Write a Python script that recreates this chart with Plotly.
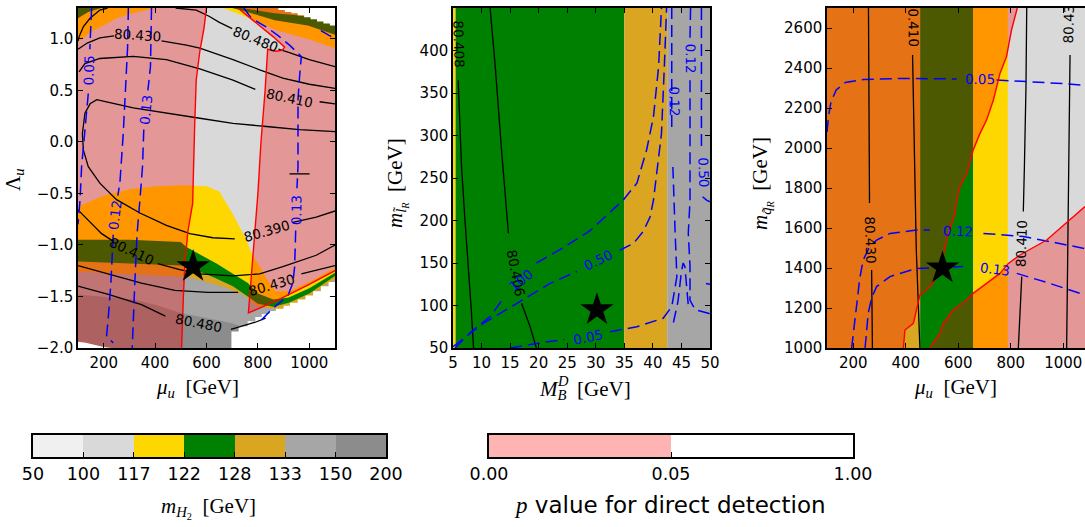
import math
import plotly.graph_objects as go

FIG_W, FIG_H = 1085, 527

# ---------------- colour classes ----------------
MH2_EDGES = [50, 100, 117, 122, 128, 133, 150, 200]
MH2_COLORS = ['#f0f0f0', '#d9d9d9', '#ffd700', '#008000', '#daa520', '#a6a6a6', '#8c8c8c']
PV_TICKS = ['0.00', '0.05', '1.00']
PV_COLORS = ['#ffb3b3', '#ffffff']
PINK = 'rgba(255,0,0,0.3)'
NODATA = '#ffffff'
LGRAY, GOLD, GREEN, GROD, DGRAY, GRAY = MH2_COLORS[1:]

# ---------------- axis ranges ----------------
P1_XR, P1_YR = [100, 1100], [-2.0, 1.3]
P2_XR, P2_YR = [5, 50], [50, 450]
P3_XR, P3_YR = [100, 1083], [1000, 2700]

# ================= PANEL 1 (mu_u vs Lambda_u) =================
P1_TL117_X = [100, 150, 200, 250, 300, 400]
P1_TL117_Y = [0.97, 1.07, 1.13, 1.2, 1.24, 1.3]
P1_TL122_X = [100, 140, 190]
P1_TL122_Y = [1.2, 1.26, 1.3]
P1_TR117_X = [665, 720, 800, 865, 994, 1100]
P1_TR117_Y = [1.3, 1.25, 1.17, 1.09, 1.0, 0.91]
P1_TR122_X = [700, 760, 865, 994, 1100]
P1_TR122_Y = [1.3, 1.26, 1.18, 1.13, 1.04]
P1_TR128_X = [735, 865, 950, 1100]
P1_TR128_Y = [1.3, 1.25, 1.23, 1.18]
P1_B117_X = [100, 200, 300, 400, 500, 600, 650, 700, 755, 775, 800, 840, 870, 920, 1000, 1100]
P1_B117_Y = [-0.63, -0.52, -0.46, -0.43, -0.42, -0.43, -0.48, -0.69, -0.95, -1.08, -1.18, -1.35, -1.45, -1.45, -1.36, -1.22]
P1_B122_X = [100, 300, 500, 522, 580, 639, 703, 761, 800, 860, 920, 1000, 1100]
P1_B122_Y = [-0.95, -0.95, -0.97, -1.02, -1.1, -1.18, -1.28, -1.37, -1.47, -1.53, -1.51, -1.42, -1.27]
P1_B128_X = [100, 300, 500, 522, 625, 703, 761, 800, 860, 920, 1000, 1100]
P1_B128_Y = [-1.16, -1.18, -1.2, -1.21, -1.31, -1.4, -1.5, -1.57, -1.6, -1.56, -1.47, -1.3]
P1_B133_X = [100, 300, 500, 528, 600, 671, 749, 800, 900, 1000, 1100]
P1_B133_Y = [-1.26, -1.28, -1.3, -1.31, -1.36, -1.41, -1.49, -1.6, -1.63, -1.51, -1.33]
P1_B150_X = [100, 200, 315, 400, 500, 600, 700, 800, 1100]
P1_B150_Y = [-1.48, -1.5, -1.53, -1.58, -1.66, -1.71, -1.76, -1.85, -1.85]

# no-data (white) areas
P1_WBR_X = [697, 697, 725, 725, 760, 760, 790, 790, 815, 815, 845, 845, 870, 870, 900, 900, 925, 925,
            955, 955, 985, 985, 1015, 1015, 1045, 1045, 1075, 1075, 1100, 1100]
P1_WBR_Y = [-2.0, -1.84, -1.84, -1.79, -1.79, -1.74, -1.74, -1.7, -1.7, -1.67, -1.67, -1.64, -1.64, -1.62,
            -1.62, -1.59, -1.59, -1.56, -1.56, -1.53, -1.53, -1.49, -1.49, -1.45, -1.45, -1.4, -1.4, -1.36, -1.36, -2.0]
P1_WTR_X = [880, 880, 905, 905, 930, 930, 955, 955, 980, 980, 1005, 1005, 1030, 1030, 1055, 1055, 1080, 1080, 1100, 1100]
P1_WTR_Y = [1.3, 1.28, 1.28, 1.26, 1.26, 1.25, 1.25, 1.23, 1.23, 1.21, 1.21, 1.19, 1.19, 1.17, 1.17, 1.15, 1.15, 1.13, 1.13, 1.3]
P1_WBL_X = [100, 100, 130, 160, 200, 230]
P1_WBL_Y = [-2.0, -1.94, -1.95, -1.97, -1.99, -2.0]

# p = 0.05 boundaries (red)
P1_RL_X = [600, 590, 574, 560, 554, 550, 546, 528, 516, 510, 503]
P1_RL_Y = [1.3, 1.1, 0.88, 0.6, 0.16, -0.42, -0.6, -0.86, -1.18, -1.5, -2.0]
P1_RR_X = [722, 800, 860, 904, 895, 870, 838, 828, 812, 800, 785, 775, 763, 865, 994, 1100]
P1_RR_Y = [1.3, 1.14, 1.02, 0.92, 0.89, 0.88, 0.9, 0.5, 0.0, -0.5, -1.0, -1.3, -1.66, -1.55, -1.39, -1.25]

# m_W contours (black), list of segments
P1_BLACK = [
    ([100, 104, 121, 147, 185, 215], [0.98, 1.02, 1.12, 1.2, 1.28, 1.3]),
    ([100, 136, 185, 240], [0.9, 0.96, 1.01, 1.03]),
    ([425, 451, 522, 574, 703, 807, 897, 1000, 1100], [0.98, 0.97, 0.94, 0.91, 0.8, 0.7, 0.62, 0.56, 0.52]),
    ([480, 560, 610, 650, 700], [1.3, 1.28, 1.22, 1.16, 1.1]),
    ([880, 920, 1000, 1100], [0.9, 0.87, 0.8, 0.73]),
    ([104, 127, 185, 315, 444, 574, 703, 790], [0.68, 0.76, 0.81, 0.83, 0.8, 0.71, 0.6, 0.51]),
    ([1040, 1100], [0.39, 0.37]),
    ([1100, 962, 833, 703, 574, 444, 315, 211, 173, 147, 127, 117, 121, 140, 185, 250, 341, 444, 535, 625, 710],
     [0.10, 0.12, 0.15, 0.18, 0.23, 0.28, 0.33, 0.39, 0.41, 0.37, 0.28, 0.08, -0.08, -0.24, -0.40, -0.56, -0.69, -0.81, -0.89, -0.93, -0.94]),
    ([936, 1027, 1100], [-0.78, -0.73, -0.67]),
    ([100, 150, 192, 235], [-0.66, -0.78, -0.89, -0.96]),
    ([410, 496, 574, 703, 807, 897, 1027, 1100], [-1.18, -1.24, -1.28, -1.30, -1.28, -1.21, -1.1, -1.0]),
    ([100, 218, 347, 477, 606, 723], [-1.2, -1.28, -1.37, -1.44, -1.46, -1.46]),
    ([969, 1030, 1100], [-1.28, -1.24, -1.2]),
    ([100, 218, 347, 440], [-1.4, -1.48, -1.58, -1.69]),
    ([695, 740, 790, 830], [-1.82, -1.79, -1.75, -1.71]),
    ([923, 1001], [-0.31, -0.31]),
]
# relic density contours (blue dashed)
P1_BLUE = [
    ([153, 149, 146], [1.3, 1.09, 0.9]),
    ([140, 127, 114, 108, 103, 100], [0.47, 0.09, -0.24, -0.56, -0.72, -0.8]),
    ([296, 293, 286, 276, 263, 255], [1.3, 0.92, 0.57, 0.08, -0.40, -0.52]),
    ([237, 228, 218, 211, 220, 237], [-0.9, -1.37, -1.70, -1.89, -1.91, -1.95]),
    ([386, 382, 372], [1.3, 0.73, 0.5]),
    ([356, 351, 341, 330, 321, 315, 311], [0.12, -0.24, -0.56, -0.89, -1.37, -1.70, -2.0]),
    ([745, 775, 830, 880, 923, 969, 962, 956, 956, 952], [1.3, 1.2, 1.12, 1.03, 0.94, 0.83, 0.63, 0.41, -0.24, -0.45]),
    ([947, 943, 936, 917, 890, 865, 840, 813], [-0.86, -1.21, -1.37, -1.49, -1.55, -1.6, -1.66, -1.73]),
    ([1045, 1075, 1100], [1.08, 1.04, 1.0]),
]
# contour labels: text, x, y, angle, colour
P1_LABELS = [
    ('80.430', 330, 1.04, 4, 'black'), ('80.480', 790, 1.0, 22, 'black'),
    ('80.410', 922, 0.43, 12, 'black'), ('80.390', 833, -0.86, -16, 'black'),
    ('80.410', 308, -1.06, 25, 'black'), ('80.430', 852, -1.39, -16, 'black'),
    ('80.480', 570, -1.76, 11, 'black'),
    ('0.05', 141, 0.69, -88, 'blue'), ('0.12', 244, -0.71, -83, 'blue'),
    ('0.13', 364, 0.31, -84, 'blue'), ('0.13', 949, -0.66, -89, 'blue'),
]
P1_STAR = ([548], [-1.21])

# ================= PANEL 2 (M_B^D vs m_lR) =================
P2_BAND_EDGES = [5, 5.45, 35, 42.5, 50]
P2_BAND_COLORS = [GOLD, GREEN, GROD, DGRAY]
P2_BLACK = [
    ([5.9, 6.2, 6.5, 7.1, 7.7, 8.2, 8.6], [365, 310, 263, 200, 146, 95, 50]),
    ([11.5, 12.4, 13.5, 14.7], [450, 381, 283, 185]),
    ([17.0, 18.5, 19.6], [102.6, 75, 50]),
]
P2_BLUE = [
    ([5.35, 8, 11.5, 14.0], [50, 68, 87, 110]),
    ([19.6, 24.3, 29, 34.8, 37.2, 38.9, 40.1, 41, 41.5], [150, 168, 188, 224, 244, 283, 322, 381, 450]),
    ([5.0, 10.3, 16.2, 22, 26.7], [51.5, 79, 102.6, 126, 140]),
    ([34.2, 36.6, 38.3, 39.5, 40.1, 41.5, 42.0, 42.4], [165, 173, 187, 204, 224, 302, 380, 450]),
    ([15, 20.2, 24.5], [50, 56, 60]),
    ([32.5, 37.2, 41.8, 43.3, 43.7, 44.2, 43.9, 43.5], [69, 75, 85, 98.6, 114, 134, 185, 263]),
    ([43.3, 43.3], [310, 450]),
    ([46.6, 46.5], [450, 415]),
    ([46.5, 46.5, 46.2, 46.5, 46.5, 47.4, 49.7, 50], [365, 224, 185, 146, 106, 95, 91, 90]),
    ([48.5, 48.5], [450, 285]),
    ([48.7, 49.4, 50], [228, 224, 222]),
    ([43.6, 44.4, 45.0, 45.3, 45.6, 45.9, 46.2], [80, 105, 140, 150, 146, 118, 100]),
    ([49.3, 50], [126, 125]),
]
P2_LABELS = [
    ('80.408', 6.1, 408, 88, 'black'), ('80.406', 16.0, 138, 79, 'black'),
    ('100', 16.9, 130, -38, 'blue'), ('0.50', 30.4, 153.5, -26, 'blue'),
    ('0.05', 28.7, 62.6, -12, 'blue'), ('0.12', 43.7, 340, 89, 'blue'),
    ('0.12', 46.6, 391, 89, 'blue'), ('0.50', 48.9, 257, 88, 'blue'),
]
P2_STAR = ([30.2], [95])

# ================= PANEL 3 (mu_u vs m_qR) =================
P3_BAND_EDGES = [100, 455, 657, 789]
P3_BAND_COLORS = [GROD, GREEN, GOLD]
P3_RA_X = [391, 397, 429, 442, 454, 480, 505, 524, 543, 556, 569, 588, 594, 606, 633, 657, 683, 708, 734, 759, 784, 803, 825]
P3_RA_Y = [1000, 1090, 1123, 1190, 1265, 1290, 1323, 1407, 1457, 1540, 1590, 1673, 1740, 1805, 1873, 1990, 2073, 2140, 2240, 2373, 2457, 2590, 2700]
P3_RB_X = [492, 530, 543, 581, 632, 657, 708, 759, 791, 835, 937, 1000, 1083]
P3_RB_Y = [1000, 1073, 1123, 1190, 1240, 1273, 1323, 1373, 1423, 1465, 1540, 1610, 1707]
P3_BLACK = [
    ([258, 259, 260, 262], [2700, 2300, 1950, 1725]),
    ([270, 271, 273], [1390, 1200, 1000]),
    ([426, 430, 435, 440, 447, 454], [2465, 2200, 1740, 1500, 1250, 1000]),
    ([861, 858, 852, 848], [2700, 2300, 1900, 1682]),
    ([842, 838, 833, 829], [1357, 1250, 1120, 1000]),
    ([1026, 1022, 1018, 1013], [2465, 2000, 1500, 1000]),
]
P3_BLUE = [
    ([100, 106, 115, 135, 170, 240, 400, 594], [2080, 2160, 2230, 2290, 2328, 2343, 2348, 2345]),
    ([746, 873, 1000, 1083], [2340, 2332, 2322, 2313]),
    ([194, 204, 213, 225, 238, 260, 289, 340, 442, 492], [1000, 1120, 1240, 1350, 1440, 1500, 1540, 1573, 1590, 1590]),
    ([696, 848, 949, 1083], [1573, 1557, 1532, 1497]),
    ([245, 251, 257, 270, 289, 340, 442, 619], [1000, 1090, 1173, 1250, 1307, 1357, 1398, 1407]),
    ([823, 949, 1083], [1373, 1323, 1265]),
]
P3_LABELS = [
    ('80.430', 266, 1540, 88, 'black'), ('0.410', 428, 2603, 89, 'black'),
    ('80.410', 842, 1523, -88, 'black'), ('80.43', 1020, 2620, -89, 'black'),
    ('0.05', 683, 2343, 1, 'blue'), ('0.12', 600, 1585, 2, 'blue'), ('0.13', 740, 1393, 7, 'blue'),
]
P3_STAR = ([540], [1400])

# ================= figure construction =================
fig = go.Figure()
AX1, AX2, AX3, AX4, AX5 = ('x', 'y'), ('x2', 'y2'), ('x3', 'y3'), ('x4', 'y4'), ('x5', 'y5')


def poly(xs, ys, color, ax):
    fig.add_trace(go.Scatter(x=list(xs), y=list(ys), mode='lines', fill='toself', fillcolor=color,
                             line=dict(width=0, color=color), hoverinfo='skip', showlegend=False,
                             xaxis=ax[0], yaxis=ax[1]))


def rect(x0, x1, y0, y1, color, ax):
    poly([x0, x1, x1, x0], [y0, y0, y1, y1], color, ax)


def line(xs, ys, color, width, ax, dash=None):
    fig.add_trace(go.Scatter(x=list(xs), y=list(ys), mode='lines',
                             line=dict(color=color, width=width, dash=dash),
                             hoverinfo='skip', showlegend=False, xaxis=ax[0], yaxis=ax[1]))


def labels(items, ax):
    for txt, x, y, ang, col in items:
        fig.add_annotation(x=x, y=y, xref=ax[0], yref=ax[1], text=txt, showarrow=False,
                           textangle=ang, font=dict(family='DejaVu Sans', size=13.5, color=col))


def star(pt, ax):
    fig.add_trace(go.Scatter(x=pt[0], y=pt[1], mode='markers',
                             marker=dict(symbol='star', size=25, color='black'),
                             hoverinfo='skip', showlegend=False, xaxis=ax[0], yaxis=ax[1]))


BLUE_DASH = '12px,6px'

# ---- panel 1 ----
rect(P1_XR[0], P1_XR[1], P1_YR[0], P1_YR[1], LGRAY, AX1)
poly(P1_TL117_X + [P1_XR[0]], P1_TL117_Y + [P1_YR[1]], GOLD, AX1)
poly(P1_TL122_X + [P1_XR[0]], P1_TL122_Y + [P1_YR[1]], GREEN, AX1)
for cx, cy, col in [(P1_TR117_X, P1_TR117_Y, GOLD), (P1_TR122_X, P1_TR122_Y, GREEN), (P1_TR128_X, P1_TR128_Y, GROD)]:
    poly(cx + [P1_XR[1]], cy + [P1_YR[1]], col, AX1)
for cx, cy, col in [(P1_B117_X, P1_B117_Y, GOLD), (P1_B122_X, P1_B122_Y, GREEN), (P1_B128_X, P1_B128_Y, GROD),
                    (P1_B133_X, P1_B133_Y, DGRAY), (P1_B150_X, P1_B150_Y, GRAY)]:
    poly(cx + [P1_XR[1], P1_XR[0]], cy + [P1_YR[0], P1_YR[0]], col, AX1)
poly(P1_RL_X + [P1_XR[0], P1_XR[0]], P1_RL_Y + [P1_YR[0], P1_YR[1]], PINK, AX1)
poly(P1_RR_X + [P1_XR[1]], P1_RR_Y + [P1_YR[1]], PINK, AX1)
poly(P1_WBR_X, P1_WBR_Y, NODATA, AX1)
poly(P1_WTR_X, P1_WTR_Y, NODATA, AX1)
poly(P1_WBL_X, P1_WBL_Y, NODATA, AX1)
for xs, ys in P1_BLACK:
    line(xs, ys, 'black', 1.3, AX1)
for xs, ys in P1_BLUE:
    line(xs, ys, 'blue', 1.5, AX1, BLUE_DASH)
line(P1_RL_X, P1_RL_Y, 'red', 1.4, AX1)
line(P1_RR_X, P1_RR_Y, 'red', 1.4, AX1)
labels(P1_LABELS, AX1)
star(P1_STAR, AX1)

# ---- panel 2 ----
for i, col in enumerate(P2_BAND_COLORS):
    rect(P2_BAND_EDGES[i], P2_BAND_EDGES[i + 1], P2_YR[0], P2_YR[1], col, AX2)
for xs, ys in P2_BLACK:
    line(xs, ys, 'black', 1.3, AX2)
for xs, ys in P2_BLUE:
    line(xs, ys, 'blue', 1.5, AX2, BLUE_DASH)
labels(P2_LABELS, AX2)
star(P2_STAR, AX2)

# ---- panel 3 ----
rect(P3_XR[0], P3_XR[1], P3_YR[0], P3_YR[1], LGRAY, AX3)
for i, col in enumerate(P3_BAND_COLORS):
    rect(P3_BAND_EDGES[i], P3_BAND_EDGES[i + 1], P3_YR[0], P3_YR[1], col, AX3)
poly(P3_RA_X + [P3_XR[0], P3_XR[0]], P3_RA_Y + [P3_YR[1], P3_YR[0]], PINK, AX3)
poly(P3_RB_X + [P3_XR[1]], P3_RB_Y + [P3_YR[0]], PINK, AX3)
for xs, ys in P3_BLACK:
    line(xs, ys, 'black', 1.3, AX3)
for xs, ys in P3_BLUE:
    line(xs, ys, 'blue', 1.5, AX3, BLUE_DASH)
line(P3_RA_X, P3_RA_Y, 'red', 1.4, AX3)
line(P3_RB_X, P3_RB_Y, 'red', 1.4, AX3)
labels(P3_LABELS, AX3)
star(P3_STAR, AX3)


# ---- colour bars ----
def discrete_scale(colors):
    n = len(colors)
    cs = []
    for i, c in enumerate(colors):
        cs += [[i / n, c], [(i + 1) / n, c]]
    return cs


fig.add_trace(go.Heatmap(z=[list(range(len(MH2_COLORS)))], x=[i + 0.5 for i in range(len(MH2_COLORS))], y=[0.5],
                         colorscale=discrete_scale(MH2_COLORS), zmin=-0.5, zmax=len(MH2_COLORS) - 0.5,
                         showscale=False, hoverinfo='skip', xaxis='x4', yaxis='y4'))
fig.add_trace(go.Heatmap(z=[list(range(len(PV_COLORS)))], x=[i + 0.5 for i in range(len(PV_COLORS))], y=[0.5],
                         colorscale=discrete_scale(PV_COLORS), zmin=-0.5, zmax=len(PV_COLORS) - 0.5,
                         showscale=False, hoverinfo='skip', xaxis='x5', yaxis='y5'))


def px_x(a, b):
    return [a / FIG_W, b / FIG_W]


def px_y(top, bottom):
    return [1 - bottom / FIG_H, 1 - top / FIG_H]


TICKFONT = dict(family='DejaVu Sans', size=15, color='black')
CBFONT = dict(family='DejaVu Sans', size=17.5, color='black')


def axis(**kw):
    d = dict(showgrid=False, zeroline=False, showline=True, linecolor='black', linewidth=1.5,
             ticks='inside', ticklen=5, tickwidth=1, tickcolor='black', tickfont=TICKFONT, automargin=False)
    d.update(kw)
    return d


PY = px_y(8, 348)
fig.update_layout(
    width=FIG_W, height=FIG_H, margin=dict(l=0, r=0, t=0, b=0, pad=0, autoexpand=False), autosize=False,
    plot_bgcolor='white', paper_bgcolor='white', showlegend=False,
    xaxis=axis(domain=px_x(78, 335), range=P1_XR, tickvals=[200, 400, 600, 800, 1000], mirror='ticks', anchor='y'),
    yaxis=axis(domain=PY, range=P1_YR, tickvals=[-2.0, -1.5, -1.0, -0.5, 0.0, 0.5, 1.0], tickformat='.1f',
               mirror='ticks', anchor='x'),
    xaxis2=axis(domain=px_x(453, 710), range=P2_XR, tickvals=list(range(5, 51, 5)), mirror='ticks', anchor='y2'),
    yaxis2=axis(domain=PY, range=P2_YR, tickvals=list(range(50, 451, 50)), mirror='ticks', anchor='x2'),
    xaxis3=axis(domain=px_x(827, 1085), range=P3_XR, tickvals=[200, 400, 600, 800, 1000], mirror='ticks', anchor='y3'),
    yaxis3=axis(domain=PY, range=P3_YR, tickvals=list(range(1000, 2601, 200)), mirror=False, anchor='x3'),
    xaxis4=axis(domain=px_x(33, 386), range=[0, len(MH2_COLORS)], tickvals=list(range(len(MH2_EDGES))),
                ticktext=[str(v) for v in MH2_EDGES], mirror=True, anchor='y4', tickfont=CBFONT),
    yaxis4=axis(domain=px_y(435, 457), range=[0, 1], showticklabels=False, ticks='', mirror=True, anchor='x4'),
    xaxis5=axis(domain=px_x(489, 853), range=[0, len(PV_COLORS)], tickvals=list(range(len(PV_TICKS))),
                ticktext=PV_TICKS, mirror=True, anchor='y5', tickfont=CBFONT),
    yaxis5=axis(domain=px_y(435, 457), range=[0, 1], showticklabels=False, ticks='', mirror=True, anchor='x5'),
)

SERIF = 'Liberation Serif'
SP = '\u2002'
# text, x px, y px, angle, size, family, x-anchor
TITLES = [
    ('<i>μ</i><sub><i>u</i></sub>' + SP + '[GeV]', 197, 388, 0, 21, SERIF, 'center'),
    ('Λ<sub><i>u</i></sub>', 14, 180, -90, 21, SERIF, 'center'),
    ('<i>M</i><sub><i>B</i></sub>' + SP + '[GeV]', 537, 390, 0, 21, SERIF, 'left'),
    ('<i>D</i>', 555, 381, 0, 14.5, SERIF, 'left'),
    ('<i>m</i><sub><i>l\u0303</i><sub><i>R</i></sub></sub>' + SP + '[GeV]', 397, 183, -90, 21, SERIF, 'center'),
    ('<i>μ</i><sub><i>u</i></sub>' + SP + '[GeV]', 955, 388, 0, 21, SERIF, 'center'),
    ('<i>m</i><sub><i>q\u0303</i><sub><i>R</i></sub></sub>' + SP + '[GeV]', 762, 184, -90, 21, SERIF, 'center'),
    ('<i>m</i><sub><i>H</i><sub>2</sub></sub>' + SP + '[GeV]', 208, 508, 0, 21, SERIF, 'center'),
    ('<span style="font-family:Liberation Serif"><i>p</i></span> value for direct detection', 670, 505, 0, 23,
     'DejaVu Sans', 'center'),
]
for txt, x, y, ang, size, fam, xa in TITLES:
    fig.add_annotation(x=x / FIG_W, y=1 - y / FIG_H, xref='paper', yref='paper', text=txt, showarrow=False,
                       textangle=ang, xanchor=xa, yanchor='middle',
                       font=dict(family=fam, size=size, color='black'))

fig.write_html("out.html", config={'displayModeBar': False},
               post_script="document.body.style.margin='0';document.body.style.overflow='hidden';")
